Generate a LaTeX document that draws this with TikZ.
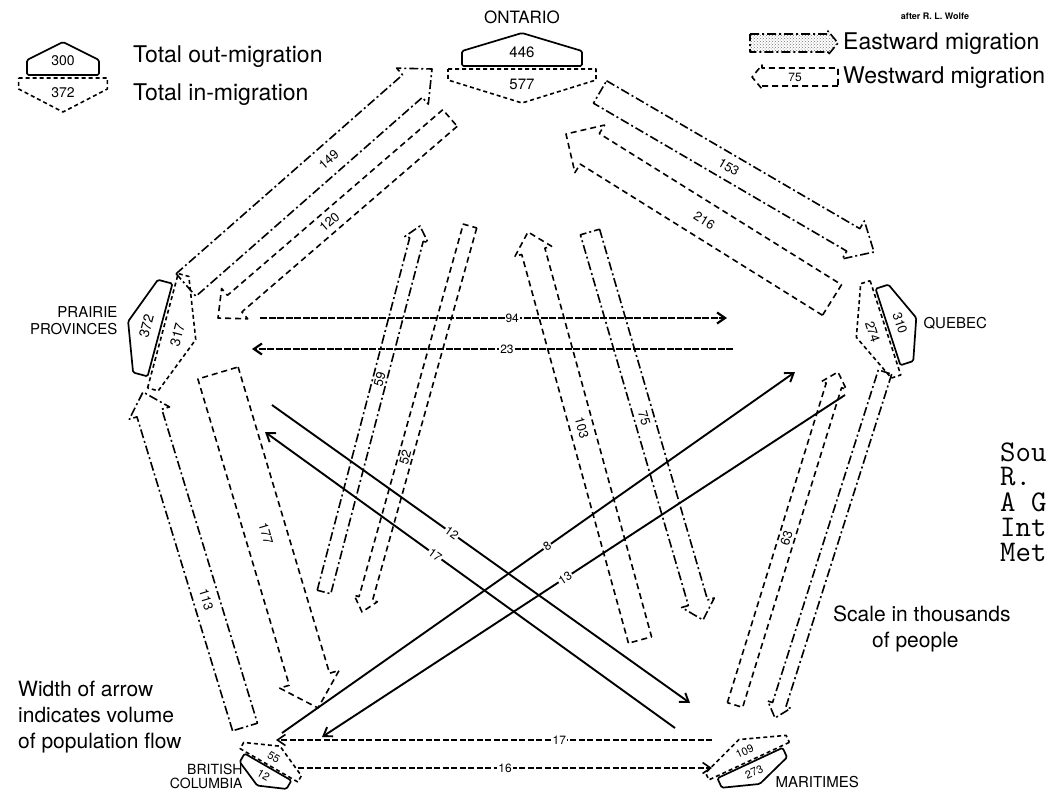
\documentclass[tikz,border=0pt]{standalone}
\usepackage{fontspec}
\setmainfont{TeX Gyre Heros}
\usetikzlibrary{calc,arrows.meta,patterns}

\tikzset{
  east/.style={line width=1.6pt, dash pattern=on 9pt off 3pt on 2pt off 3pt, line join=round},
  west/.style={line width=1.6pt, dash pattern=on 6pt off 4pt, line join=round},
  outhouse/.style={line width=1.7pt, line join=round},
  inhouse/.style={line width=1.6pt, dash pattern=on 4pt off 3pt, line join=round},
  bandlab/.style={font=\fontsize{13}{13}\selectfont, inner sep=1pt, sloped},
  linelab/.style={font=\fontsize{12}{12}\selectfont, fill=white, inner sep=1pt, sloped},
  solidflow/.style={line width=1.9pt, -{Straight Barb[length=8pt,width=11pt]}},
  dotflow/.style={line width=2.2pt, dash pattern=on 7pt off 1.5pt, -{Straight Barb[length=8pt,width=11pt]}},
  dashflow/.style={line width=1.6pt, dash pattern=on 6pt off 2.5pt, -{Straight Barb[length=8pt,width=11pt]}},
  provlab/.style={font=\fontsize{15}{17}\selectfont},
  legtext/.style={font=\fontsize{23}{26}\selectfont, anchor=west, inner sep=0pt},
  sidetext/.style={font=\fontsize{21}{26}\selectfont, anchor=west, inner sep=0pt},
  typed/.style={font=\ttfamily\fontsize{30}{30}\selectfont, anchor=west, inner sep=0pt},
}

% #1 name, #2 centre, #3 rotation, #4 xscale, #5 yscale, #6 text rotation, #7 out, #8 in, #9 font size
\newcommand{\provhouse}[9]{%
  \begin{scope}[shift={(#2)}, rotate=#3, xscale=#4, yscale=#5]
    \draw[outhouse, rounded corners=1.5pt] (-60,0) -- (-60,-15) -- (0,-33) -- (60,-15) -- (60,0) -- cycle;
    \draw[inhouse] (-74,3) -- (74,3) -- (74,14) -- (0,37) -- (-74,14) -- cycle;
    \node[font=\fontsize{#9}{#9}\selectfont, rotate=#6, inner sep=0pt] (#1-out) at (0,-14) {#7};
    \node[font=\fontsize{#9}{#9}\selectfont, rotate=#6, inner sep=0pt] (#1-in) at (0,18) {#8};
  \end{scope}}

% #1 style, #2 tail, #3 tip, #4 half width, #5 head half width, #6 head length
\newcommand{\bandarrow}[6]{%
  \coordinate (bh) at ($(#3)!#6!(#2)$);
  \draw[#1] ($(#2)!#4!90:(#3)$) -- ($(bh)!#4!-90:(#2)$) -- ($(bh)!#5!-90:(#2)$) -- (#3)
    -- ($(bh)!#5!90:(#2)$) -- ($(bh)!#4!90:(#2)$) -- ($(#2)!#4!-90:(#3)$) -- cycle;}

\begin{document}
\begin{tikzpicture}[x=1pt, y=-1pt]
\fill[white] (0,0) rectangle (1049,790);
\useasboundingbox (0,0) rectangle (1049,790);

% ---------- provinces ----------
\provhouse{ON}{522,66}{0}{1}{1}{0}{446}{577}{15}
\provhouse{PR}{160,330}{75}{0.8}{1}{75}{372}{317}{14}
\provhouse{QC}{888,327}{-72}{0.67}{0.9}{-72}{310}{274}{13}
\provhouse{BC}{268,767}{150}{0.45}{0.65}{-30}{12}{55}{11}
\provhouse{MA}{750,763}{-155}{0.6}{0.7}{25}{273}{109}{11}

\node[font=\fontsize{17}{17}\selectfont] (onlab) at (522,17) {ONTARIO};
\node[provlab, anchor=east, align=right] (prlab) at (121,321) {PRAIRIE\\PROVINCES};
\node[provlab, anchor=west] (qclab) at (920,323) {QUEBEC};
\node[provlab, anchor=east, align=right, font=\fontsize{14}{14}\selectfont] (bclab) at (246,776) {BRITISH\\COLUMBIA};
\node[provlab, anchor=west] (malab) at (772,782) {MARITIMES};

% ---------- coordinates of flows ----------
\coordinate (pot) at (186,285); \coordinate (poh) at (432,69);
\coordinate (opt) at (450,118); \coordinate (oph) at (218,318);
\coordinate (oqt) at (600,92);  \coordinate (oqh) at (874,252);
\coordinate (qot) at (832,300); \coordinate (qoh) at (566,134);
\coordinate (pqt) at (260,318); \coordinate (pqh) at (727,318);
\coordinate (qpt) at (733,349); \coordinate (qph) at (252,349);
\coordinate (bpt) at (245,727); \coordinate (bph) at (143,392);
\coordinate (pbt) at (218,373); \coordinate (pbh) at (318,708);
\coordinate (bot) at (324,592); \coordinate (boh) at (420,226);
\coordinate (obt) at (470,226); \coordinate (obh) at (362,612);
\coordinate (mot) at (640,640); \coordinate (moh) at (528,232);
\coordinate (omt) at (590,232); \coordinate (omh) at (703,620);
\coordinate (mqt) at (735,705); \coordinate (mqh) at (838,372);
\coordinate (qmt) at (885,372); \coordinate (qmh) at (775,718);
\coordinate (pmt) at (272,405); \coordinate (pmh) at (690,703);
\coordinate (mpt) at (675,728); \coordinate (mph) at (265,432);
\coordinate (bqt) at (282,733); \coordinate (bqh) at (795,372);
\coordinate (qbt) at (845,395); \coordinate (qbh) at (322,737);
\coordinate (mbt) at (712,740); \coordinate (mbh) at (276,740);
\coordinate (bmt) at (298,768); \coordinate (bmh) at (712,768);

% ---------- wide flow arrows ----------
\bandarrow{east}{pot}{poh}{15pt}{24pt}{26pt}
\path (pot) -- (poh) node[bandlab, pos=0.58] (l149) {149};
\bandarrow{west}{opt}{oph}{11pt}{20pt}{22pt}
\path (opt) -- (oph) node[bandlab, pos=0.52] (l120) {120};
\bandarrow{east}{oqt}{oqh}{13pt}{22pt}{24pt}
\path (oqt) -- (oqh) node[bandlab, pos=0.47] (l153) {153};
\bandarrow{west}{qot}{qoh}{18pt}{28pt}{28pt}
\path (qot) -- (qoh) node[bandlab, pos=0.48] (l216) {216};
\bandarrow{east}{bpt}{bph}{13pt}{21pt}{22pt}
\path (bpt) -- (bph) node[bandlab, pos=0.38] (l113) {113};
\bandarrow{west}{pbt}{pbh}{21pt}{31pt}{30pt}
\path (pbt) -- (pbh) node[bandlab, pos=0.48] (l177) {177};
\bandarrow{east}{bot}{boh}{7pt}{12pt}{14pt}
\path (bot) -- (boh) node[bandlab, pos=0.58] (l59) {59};
\bandarrow{west}{obt}{obh}{7pt}{12pt}{14pt}
\path (obt) -- (obh) node[bandlab, pos=0.6] (l52) {52};
\bandarrow{west}{mot}{moh}{12pt}{19pt}{20pt}
\path (mot) -- (moh) node[bandlab, pos=0.52] (l103) {103};
\bandarrow{east}{omt}{omh}{10pt}{17pt}{18pt}
\path (omt) -- (omh) node[bandlab, pos=0.48] (l75) {75};
\bandarrow{west}{mqt}{mqh}{8pt}{13pt}{14pt}
\path (mqt) -- (mqh) node[bandlab, pos=0.5] (l63) {63};
\bandarrow{east}{qmt}{qmh}{7pt}{12pt}{14pt}

% ---------- thin flow lines ----------
\draw[dotflow] (pqt) -- (pqh) node[linelab, pos=0.54] (l94) {94};
\draw[dotflow] (qpt) -- (qph) node[linelab, pos=0.47] (l23) {23};
\draw[solidflow] (pmt) -- (pmh) node[linelab, pos=0.43] (l12) {12};
\draw[solidflow] (mpt) -- (mph) node[linelab, pos=0.585] (l17a) {17};
\draw[solidflow] (bqt) -- (bqh) node[linelab, pos=0.517] (l8) {8};
\draw[solidflow] (qbt) -- (qbh) node[linelab, pos=0.535] (l13) {13};
\draw[dashflow] (mbt) -- (mbh) node[linelab, pos=0.35] (l17b) {17};
\draw[dashflow] (bmt) -- (bmh) node[linelab, pos=0.5] (l16) {16};

% ---------- legends ----------
\provhouse{LG}{63,75}{0}{0.6}{1}{0}{300}{372}{14}
\node[legtext] (tout) at (133,57) {Total out-migration};
\node[legtext] (tin) at (133,95) {Total in-migration};

\coordinate (ewt) at (750,43); \coordinate (ewh) at (838,43);
\coordinate (wwt) at (838,77); \coordinate (wwh) at (752,77);
\bandarrow{east, pattern=crosshatch dots, pattern color=black!55}{ewt}{ewh}{9pt}{12pt}{10pt}
\bandarrow{west}{wwt}{wwh}{9pt}{12pt}{10pt}
\path (wwt) -- (wwh) node[pos=0.5, font=\fontsize{12}{12}\selectfont] (l75leg) {75};
\node[legtext] (east) at (843,44) {Eastward migration};
\node[legtext] (west) at (843,78) {Westward migration};
\node[font=\bfseries\fontsize{9}{9}\selectfont] (wolfe) at (935,16) {after R. L. Wolfe};

\node[sidetext, align=left] (width) at (18,717) {Width of arrow\\indicates volume\\of population flow};
\node[sidetext, anchor=north west] (scale1) at (833,606) {Scale in thousands};
\node[sidetext, anchor=north west] (scale2) at (872,632) {of people};

\node[typed] (s1) at (1000,452) {Sou};
\node[typed] (s2) at (1000,477) {R.};
\node[typed] (s3) at (1000,502) {A G};
\node[typed] (s4) at (1000,527) {Int};
\node[typed] (s5) at (1000,552) {Met};
\end{tikzpicture}
\end{document}
